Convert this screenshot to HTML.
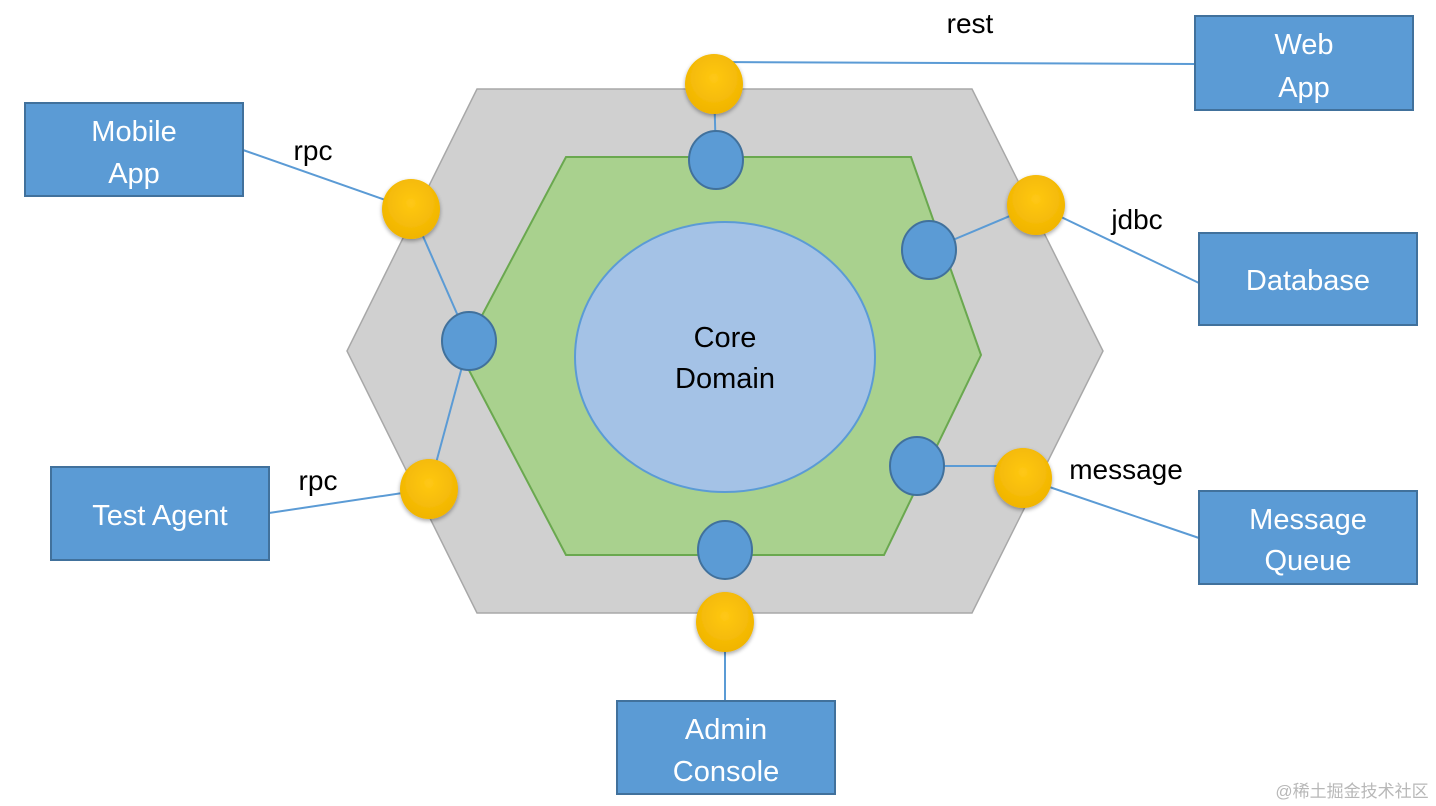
<!DOCTYPE html>
<html><head><meta charset="utf-8"><style>
html,body{margin:0;padding:0;background:#fff;}
svg{display:block}
text{font-family:"Liberation Sans","DejaVu Sans",sans-serif;}
</style></head><body>
<svg width="1436" height="806" viewBox="0 0 1436 806" xmlns="http://www.w3.org/2000/svg">
<defs>
<radialGradient id="yg" cx="50%" cy="40%" r="60%">
<stop offset="0" stop-color="#ffc814"/><stop offset="1" stop-color="#f0b400"/></radialGradient>
<filter id="sh" x="-30%" y="-30%" width="160%" height="160%"><feGaussianBlur in="SourceAlpha" stdDeviation="2"/><feOffset dy="2"/><feComponentTransfer><feFuncA type="linear" slope="0.35"/></feComponentTransfer><feMerge><feMergeNode/><feMergeNode in="SourceGraphic"/></feMerge></filter>
</defs>
<polygon points="477,89 972,89 1103,351 972,613 477,613 347,351" fill="#d0d0d0" stroke="#a8a8a8" stroke-width="1.5"/>
<polygon points="566,157 911,157 981,355 884,555 566,555 461,355" fill="#a9d18e" stroke="#6aa84f" stroke-width="2"/>
<ellipse cx="725" cy="357" rx="150" ry="135" fill="#a4c2e6" stroke="#5b9bd5" stroke-width="2"/>
<text x="725" y="347" font-size="29" text-anchor="middle" fill="#000">Core</text>
<text x="725" y="388" font-size="29" text-anchor="middle" fill="#000">Domain</text>
<g stroke="#5b9bd5" stroke-width="2" fill="none">
<line x1="714" y1="62" x2="1195" y2="64"/>
<line x1="714" y1="84" x2="716" y2="160"/>
<line x1="243" y1="150" x2="411" y2="209"/>
<line x1="411" y1="209" x2="469" y2="341"/>
<line x1="469" y1="341" x2="429" y2="489"/>
<line x1="269" y1="513" x2="429" y2="489"/>
<line x1="929" y1="250" x2="1036" y2="205"/>
<line x1="1036" y1="205" x2="1199" y2="283"/>
<line x1="917" y1="466" x2="1023" y2="466"/>
<line x1="1023" y1="478" x2="1199" y2="538"/>
<line x1="725" y1="622" x2="725" y2="701"/>
</g>
<g fill="#5b9bd5" stroke="#41719c" stroke-width="2">
<ellipse cx="716" cy="160" rx="27" ry="29"/>
<ellipse cx="929" cy="250" rx="27" ry="29"/>
<ellipse cx="469" cy="341" rx="27" ry="29"/>
<ellipse cx="917" cy="466" rx="27" ry="29"/>
<ellipse cx="725" cy="550" rx="27" ry="29"/>
</g>
<g fill="url(#yg)" filter="url(#sh)">
<ellipse cx="714" cy="84" rx="29" ry="30"/>
<ellipse cx="1036" cy="205" rx="29" ry="30"/>
<ellipse cx="411" cy="209" rx="29" ry="30"/>
<ellipse cx="429" cy="489" rx="29" ry="30"/>
<ellipse cx="1023" cy="478" rx="29" ry="30"/>
<ellipse cx="725" cy="622" rx="29" ry="30"/>
</g>
<g fill="#5b9bd5" stroke="#41719c" stroke-width="2">
<rect x="1195" y="16" width="218" height="94"/>
<rect x="25" y="103" width="218" height="93"/>
<rect x="1199" y="233" width="218" height="92"/>
<rect x="51" y="467" width="218" height="93"/>
<rect x="1199" y="491" width="218" height="93"/>
<rect x="617" y="701" width="218" height="93"/>
</g>
<g fill="#fff" font-size="29" text-anchor="middle">
<text x="1304" y="54">Web</text><text x="1304" y="97">App</text>
<text x="134" y="141">Mobile</text><text x="134" y="183">App</text>
<text x="1308" y="290">Database</text>
<text x="160" y="525">Test Agent</text>
<text x="1308" y="529">Message</text><text x="1308" y="570">Queue</text>
<text x="726" y="739">Admin</text><text x="726" y="781">Console</text>
</g>
<g fill="#000" font-size="28" text-anchor="middle">
<text x="970" y="33">rest</text>
<text x="313" y="160">rpc</text>
<text x="1137" y="229">jdbc</text>
<text x="318" y="490">rpc</text>
<text x="1126" y="479">message</text>
</g>
<text x="1352" y="797" font-size="17" fill="#b8b8b8" text-anchor="middle" style="font-family:'Liberation Sans','Noto Sans CJK SC',sans-serif">@稀土掘金技术社区</text>
</svg>
</body></html>
